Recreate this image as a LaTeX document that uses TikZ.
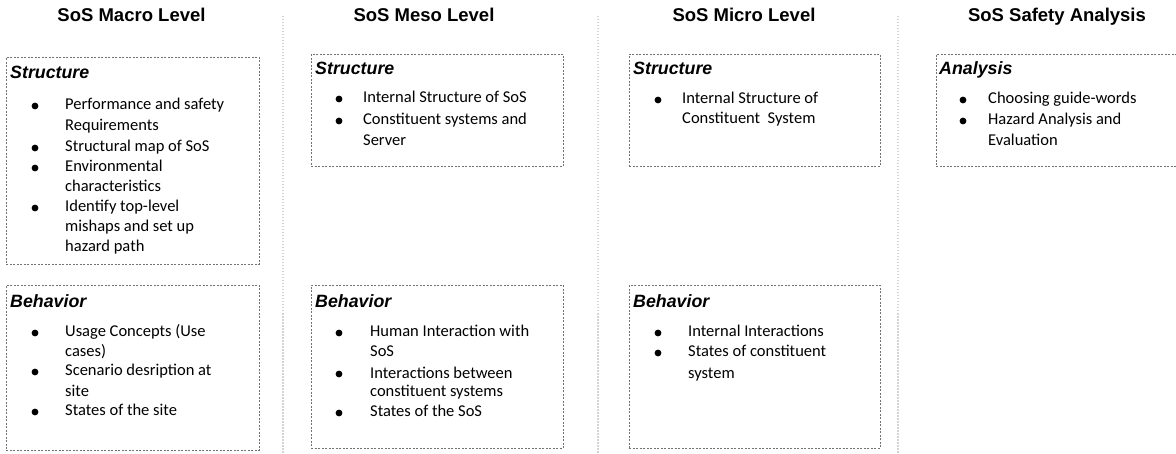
\documentclass[tikz,border=0pt]{standalone}
\usepackage{fontspec}
\setmainfont{Carlito}
\newfontfamily\headfont{Liberation Sans}
\begin{document}
\begin{tikzpicture}[x=1pt,y=1pt,
  title/.style={font=\headfont\bfseries\fontsize{18.5}{22}\selectfont, anchor=base, inner sep=0},
  head/.style={font=\headfont\bfseries\itshape\fontsize{17.8}{21}\selectfont, anchor=base west, inner sep=0},
  body/.style={font=\fontsize{16.5}{20}\selectfont, anchor=base west, inner sep=0},
  panel/.style={draw=black!55, line width=0.8pt, dash pattern=on 2pt off 1.5pt, anchor=north west, inner sep=0},
  dot/.style={circle, fill=black, inner sep=0, minimum size=6.8pt},
  divider/.style={draw=black!17, line width=1.6pt, dash pattern=on 1.5pt off 1.5pt}]
\useasboundingbox (0,0) rectangle (1176,-454);

% column dividers
\draw[divider] (283,-16) -- (283,-454);
\draw[divider] (598,-16) -- (598,-454);
\draw[divider] (898,-16) -- (898,-454);

% column titles
\node[title] (t1) at (131.5,-22) {SoS Macro Level};
\node[title] (t2) at (424,-22) {SoS Meso Level};
\node[title] (t3) at (744,-22) {SoS Micro Level};
\node[title] (t4) at (1057,-22) {SoS Safety Analysis};

% panels
\node[panel, minimum width=253pt, minimum height=207pt] (macS) at (6,-57) {};
\node[panel, minimum width=253pt, minimum height=165pt] (macB) at (6,-285) {};
\node[panel, minimum width=252pt, minimum height=112pt] (mesS) at (311,-54) {};
\node[panel, minimum width=252pt, minimum height=163pt] (mesB) at (311,-285) {};
\node[panel, minimum width=251pt, minimum height=112pt] (micS) at (629,-54) {};
\node[panel, minimum width=251pt, minimum height=163pt] (micB) at (629,-285) {};
\node[panel, minimum width=250pt, minimum height=112pt] (safA) at (936,-54) {};

% panel headings
\node[head] (h1) at (10,-78.5) {Structure};
\node[head] (h2) at (10,-307.5) {Behavior};
\node[head] (h3) at (315,-74.5) {Structure};
\node[head] (h4) at (315,-307.5) {Behavior};
\node[head] (h5) at (633,-74.5) {Structure};
\node[head] (h6) at (633,-307.5) {Behavior};
\node[head] (h7) at (939,-74.5) {Analysis};

% macro structure
\foreach \t/\y [count=\i] in {Performance and safety/106, Requirements/127, Structural map of SoS/148,
  Environmental/168, characteristics/188, Identify top-level/208, mishaps and set up/228, hazard path/248}
  \node[body] (ms\i) at (65,-\y-4) {\t};
\foreach \y [count=\i] in {106,148,168,208}
  \node[dot] (msd\i) at (35,-\y) {};

% macro behavior
\foreach \t/\y [count=\i] in {Usage Concepts (Use/333, cases)/353, Scenario desription at/372, site/392, States of the site/412}
  \node[body] (mb\i) at (65,-\y-4) {\t};
\foreach \y [count=\i] in {333,372,412}
  \node[dot] (mbd\i) at (35,-\y) {};

% meso structure
\foreach \t/\y [count=\i] in {Internal Structure of SoS/99, Constituent systems and/121, Server/142}
  \node[body] (es\i) at (363,-\y-4) {\t};
\foreach \y [count=\i] in {99,121}
  \node[dot] (esd\i) at (339,-\y) {};

% meso behavior
\foreach \t/\y [count=\i] in {Human Interaction with/333, SoS/353, Interactions between/374, constituent systems/393, States of the SoS/413}
  \node[body] (eb\i) at (370,-\y-4) {\t};
\foreach \y [count=\i] in {333,374,413}
  \node[dot] (ebd\i) at (339,-\y) {};

% micro structure
\foreach \t/\y [count=\i] in {Internal Structure of/100, Constituent\ \ System/120}
  \node[body] (is\i) at (682,-\y-4) {\t};
\node[dot] (isd1) at (658,-100) {};

% micro behavior
\foreach \t/\y [count=\i] in {Internal Interactions/333, States of constituent/353, system/374}
  \node[body] (ib\i) at (688,-\y-4) {\t};
\foreach \y [count=\i] in {333,353}
  \node[dot] (ibd\i) at (658,-\y) {};

% safety analysis
\foreach \t/\y [count=\i] in {Choosing guide-words/100, Hazard Analysis and/121, Evaluation/142}
  \node[body] (sa\i) at (988,-\y-4) {\t};
\foreach \y [count=\i] in {100,121}
  \node[dot] (sad\i) at (963,-\y) {};
\end{tikzpicture}
\end{document}
